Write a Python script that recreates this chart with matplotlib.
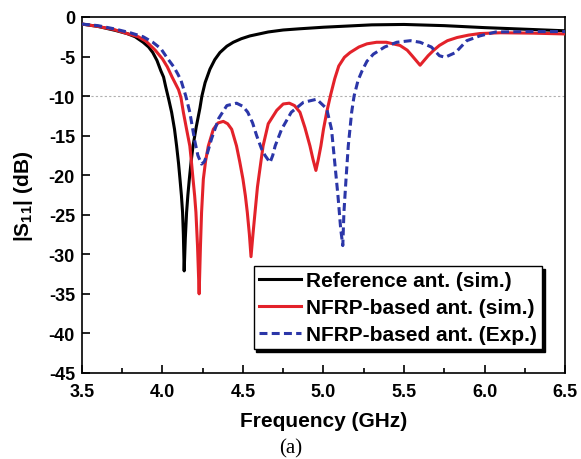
# S11 comparison plot
import matplotlib
matplotlib.use('Agg')
import matplotlib.pyplot as plt

plt.rcParams['font.family'] = ['Liberation Sans', 'DejaVu Sans']
plt.rcParams['font.weight'] = 'bold'
plt.rcParams['mathtext.fontset'] = 'custom'
plt.rcParams['mathtext.rm'] = 'Liberation Sans'
plt.rcParams['mathtext.bf'] = 'Liberation Sans:bold'

# reference antenna (sim.)
refFreq = [3.50, 3.60, 3.707, 3.78, 3.83, 3.88, 3.914, 3.94, 3.966, 3.99, 4.007, 4.02,
           4.04, 4.057, 4.075, 4.088, 4.10, 4.109, 4.118, 4.125, 4.13, 4.135, 4.142,
           4.15, 4.158, 4.167, 4.178, 4.19, 4.21, 4.233, 4.245, 4.265, 4.295, 4.325,
           4.357, 4.40, 4.44, 4.49, 4.543, 4.60, 4.657, 4.75, 4.85, 5.00, 5.15, 5.30,
           5.50, 5.75, 6.00, 6.25, 6.50]
refS11 = [-0.9, -1.2, -1.7, -2.1, -2.5, -3.2, -3.8, -4.5, -5.5, -6.8, -7.6, -8.8,
          -10.5, -12.05, -14.2, -16.3, -18.5, -20.5, -22.6, -24.7, -27.5, -32.1, -28.0,
          -24.7, -22.5, -20.5, -18.3, -16.3, -13.9, -11.5, -10.0, -8.3, -6.6, -5.4,
          -4.5, -3.7, -3.2, -2.75, -2.4, -2.15, -1.9, -1.65, -1.5, -1.3, -1.15, -1.0,
          -0.95, -1.1, -1.35, -1.55, -1.75]

# NFRP-based antenna (sim.)
simFreq = [3.50, 3.60, 3.70, 3.78, 3.85, 3.90, 3.955, 4.00, 4.03, 4.06, 4.08, 4.10,
           4.115, 4.13, 4.15, 4.17, 4.18, 4.19, 4.20, 4.208, 4.218, 4.228, 4.236, 4.243,
           4.254, 4.268, 4.285, 4.316, 4.345, 4.378, 4.405, 4.43, 4.46, 4.48, 4.50,
           4.515, 4.527, 4.54, 4.55, 4.562, 4.575, 4.59, 4.60, 4.625, 4.657, 4.71, 4.75,
           4.788, 4.82, 4.854, 4.885, 4.916, 4.935, 4.953, 4.968, 4.984, 5.00, 5.02,
           5.045, 5.07, 5.095, 5.13, 5.165, 5.22, 5.27, 5.33, 5.39, 5.475, 5.52, 5.55, 5.575,
           5.60, 5.625, 5.65, 5.685, 5.72, 5.77, 5.83, 5.90, 5.97, 6.10, 6.30, 6.50]
simS11 = [-0.9, -1.2, -1.6, -2.1, -2.5, -3.1, -4.2, -5.3, -6.3, -7.6, -8.4, -9.2,
          -10.2, -12.05, -14.2, -16.3, -18.3, -20.5, -22.6, -24.7, -29.0, -35.0, -29.0, -24.7,
          -20.5, -18.2, -16.3, -14.2, -13.4, -13.2, -13.5, -14.2, -16.3, -18.3, -20.5,
          -22.6, -24.7, -27.5, -30.3, -27.5, -24.7, -21.5, -20.0, -16.3, -13.5, -11.8, -11.0,
          -10.9, -11.2, -12.05, -14.0, -16.3, -18.0, -19.4, -18.0, -16.3, -14.2, -12.05,
          -9.8, -7.8, -6.2, -5.1, -4.5, -3.8, -3.4, -3.2, -3.2, -3.6, -4.2, -4.9, -5.5,
          -6.1, -5.5, -4.9, -4.2, -3.6, -3.0, -2.6, -2.3, -2.1, -2.0, -2.05, -2.15]

# NFRP-based antenna (Exp.)
expFreq = [3.50, 3.60, 3.70, 3.80, 3.88, 3.94, 3.99, 4.03, 4.07, 4.095, 4.115, 4.145,
           4.17, 4.20, 4.22, 4.243, 4.26, 4.275, 4.305, 4.35, 4.40, 4.46, 4.50, 4.53,
           4.56, 4.585, 4.616, 4.637, 4.668, 4.685, 4.70, 4.74, 4.80, 4.875, 4.958,
           5.02, 5.05, 5.07, 5.09, 5.107, 5.12, 5.127, 5.14, 5.154, 5.175, 5.19, 5.215,
           5.24, 5.27, 5.31, 5.38, 5.455, 5.54, 5.60, 5.67, 5.72, 5.755, 5.82, 5.89,
           5.97, 6.07, 6.30, 6.50]
expS11 = [-0.9, -1.1, -1.5, -2.0, -2.5, -3.2, -4.0, -5.2, -6.3, -7.2, -8.0, -10.0,
          -12.05, -15.6, -17.5, -18.6, -18.3, -17.5, -15.4, -12.8, -11.2, -10.9, -11.3, -12.05,
          -13.4, -15.0, -16.7, -17.5, -18.4, -17.5, -16.3, -14.2, -12.05, -10.8, -10.4,
          -11.6, -14.2, -18.4, -22.6, -26.8, -28.9, -24.7, -20.5, -16.3, -12.05, -10.0, -8.0,
          -6.8, -5.6, -4.7, -3.8, -3.2, -3.0, -3.2, -3.8, -4.9, -5.1, -4.5, -3.0,
          -2.4, -1.9, -1.85, -1.85]

labels = ['Reference ant. (sim.)', 'NFRP-based ant. (sim.)', 'NFRP-based ant. (Exp.)']
xTicks = [3.5, 4.0, 4.5, 5.0, 5.5, 6.0, 6.5]
yTicks = [0, -5, -10, -15, -20, -25, -30, -35, -40, -45]

fig = plt.figure(figsize=(5.81, 4.60), dpi=100)
ax = fig.add_axes([0.141, 0.187, 0.8315, 0.774])

ax.axhline(-10, color='#b0b0b0', lw=0.8, ls=(0, (2, 2)), zorder=1)
ax.plot(refFreq, refS11, color='black', lw=2.2, label=labels[0], zorder=3)
ax.plot(simFreq, simS11, color='#e3222a', lw=2.2, label=labels[1], zorder=4)
ax.plot(expFreq, expS11, color='#2b36a8', lw=2.2, ls=(0, (2.6, 1.4)), label=labels[2], zorder=5)

ax.set_xlim(3.5, 6.5)
ax.set_ylim(-45, 0)
ax.set_xticks(xTicks)
ax.set_xticklabels([f'{t:.1f}' for t in xTicks])
ax.set_xticks([3.75, 4.25, 4.75, 5.25, 5.75, 6.25], minor=True)
ax.set_yticks(yTicks)
ax.set_yticklabels([str(t) for t in yTicks])
ax.tick_params(axis='both', which='major', direction='in', length=6, width=1.2,
               labelsize=13, top=False, right=False)
ax.tick_params(axis='x', which='major', pad=7)
ax.tick_params(axis='y', which='major', pad=5)
ax.tick_params(axis='x', which='minor', direction='in', length=3.5, width=1.2)
for s in ax.spines.values():
    s.set_linewidth(1.2)

ax.set_xlabel('Frequency (GHz)', fontsize=15, fontweight='bold', labelpad=8)
ax.set_ylabel(r'|S$_{\rm 11}$| (dB)', fontsize=15, fontweight='bold', labelpad=10)

leg = ax.legend(loc='lower right', bbox_to_anchor=(0.952, 0.067), fontsize=15,
                frameon=True, fancybox=False, edgecolor='black',
                shadow={'color': 'black', 'alpha': 1},
                handlelength=2.0, handletextpad=0.25, borderpad=0.25,
                labelspacing=0.38, borderaxespad=0)
leg.get_frame().set_linewidth(1.0)
for t in leg.get_texts():
    t.set_fontweight('bold')

fig.text(0.5, 0.025, '(a)', fontsize=15, family='Liberation Serif',
         fontweight='normal', ha='center', va='center')

fig.savefig('out.png', dpi=100)
